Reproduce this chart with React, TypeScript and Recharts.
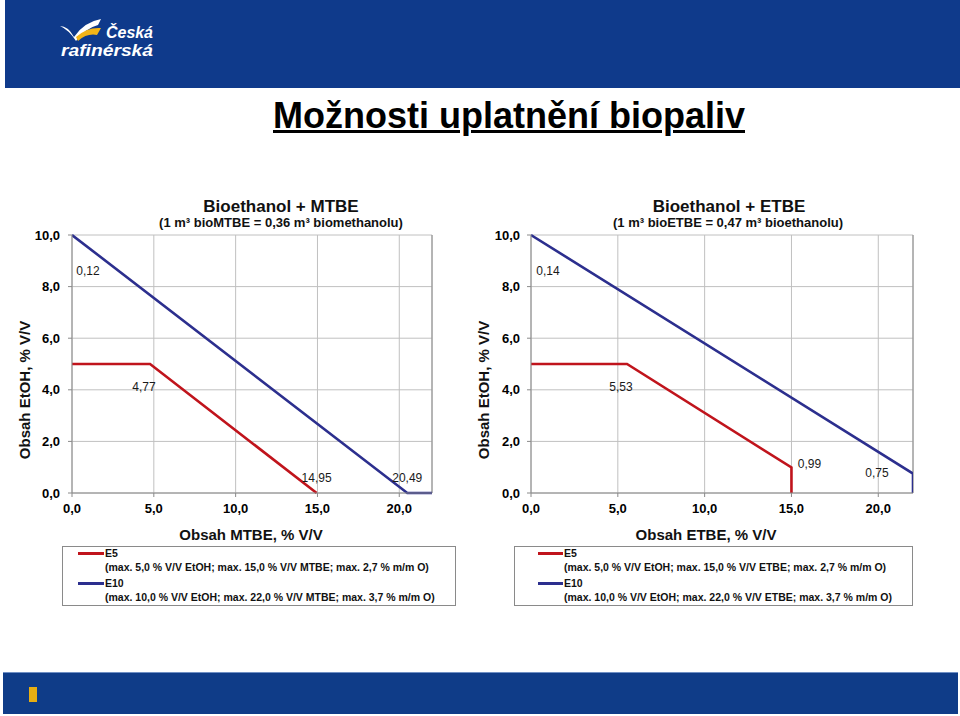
import React from 'react';
import { LineChart, Line, XAxis, YAxis, CartesianGrid, ReferenceDot, ReferenceLine } from 'recharts';

const FONT = 'Arial, "Liberation Sans", Helvetica, sans-serif';
const RED = '#C0141C';
const BLUE = '#2C2F8E';
const GRID = '#c0c0c0';
const AXIS = '#8a8a8a';

// x ticks / y ticks
const xTicks = [0, 5, 10, 15, 20];
const yTicks = [0, 2, 4, 6, 8, 10];

// MTBE chart series
const mtbeE5X = [0, 4.77, 14.95];
const mtbeE5Y = [5, 5, 0];
const mtbeE10X = [0, 20.49, 22];
const mtbeE10Y = [10, 0, 0];

// ETBE chart series
const etbeE5X = [0, 5.53, 15, 15];
const etbeE5Y = [5, 5, 0.99, 0];
const etbeE10X = [0, 22, 22];
const etbeE10Y = [10, 0.75, 0];

// annotations: text, anchor point (data), pixel offset
const mtbeNotes = [
  { text: '0,12', x: 0, y: 10, dx: 16, dy: 40 },
  { text: '4,77', x: 4.77, y: 5, dx: -6, dy: 27 },
  { text: '14,95', x: 14.95, y: 0, dx: 0, dy: -11 },
  { text: '20,49', x: 20.49, y: 0, dx: 0, dy: -11 },
];
const etbeNotes = [
  { text: '0,14', x: 0, y: 10, dx: 17, dy: 40 },
  { text: '5,53', x: 5.53, y: 5, dx: -6, dy: 27 },
  { text: '0,99', x: 15, y: 0.99, dx: 18, dy: 1 },
  { text: '0,75', x: 22, y: 0.75, dx: -36, dy: 3 },
];

const zip = (xs: number[], ys: number[]) => xs.map((x, i) => ({ x, y: ys[i] }));

const fmt = (v: number) => v.toFixed(1).replace('.', ',');

type Note = { text: string; x: number; y: number; dx: number; dy: number };

function Chart(props: {
  left: number;
  yAxisWidth: number;
  yTickMargin: number;
  marginRight: number;
  width: number;
  e5: { x: number; y: number }[];
  e10: { x: number; y: number }[];
  notes: Note[];
}) {
  const { left, yAxisWidth, yTickMargin, marginRight, width, e5, e10, notes } = props;
  const tickStyle = { fill: '#000', fontSize: 13, fontWeight: 'bold' as const, fontFamily: FONT };
  return (
    <div style={{ position: 'absolute', left, top: 220 }}>
      <LineChart width={width} height={303} margin={{ top: 15, right: marginRight, bottom: 0, left: 0 }}>
        <CartesianGrid stroke={GRID} strokeWidth={1} />
        <XAxis
          dataKey="x"
          type="number"
          domain={[0, 22]}
          ticks={xTicks}
          allowDataOverflow
          tickFormatter={fmt}
          tick={tickStyle}
          tickSize={4}
          tickMargin={7}
          height={30}
          stroke={AXIS}
          interval={0}
        />
        <YAxis
          type="number"
          domain={[0, 10]}
          ticks={yTicks}
          tickFormatter={fmt}
          tick={tickStyle}
          tickSize={4}
          tickMargin={yTickMargin}
          width={yAxisWidth}
          stroke={AXIS}
          interval={0}
        />
        <ReferenceLine x={22} stroke={AXIS} strokeWidth={1} ifOverflow="visible" />
        <Line data={e5} dataKey="y" type="linear" stroke={RED} strokeWidth={2.6} dot={false} isAnimationActive={false} />
        <Line data={e10} dataKey="y" type="linear" stroke={BLUE} strokeWidth={2.6} dot={false} isAnimationActive={false} />
        {notes.map((n, i) => (
          <ReferenceDot
            key={i}
            x={n.x}
            y={n.y}
            r={1}
            ifOverflow="visible"
            shape={(p: any) => (
              <text
                x={p.cx + n.dx}
                y={p.cy + n.dy}
                textAnchor="middle"
                fontSize={12}
                fontFamily={FONT}
                fill="#1a1a1a"
              >
                {n.text}
              </text>
            )}
          />
        ))}
      </LineChart>
    </div>
  );
}

function Legend(props: { left: number; width: number; swatchLeft: number; textLeft: number; lines: string[] }) {
  const { left, width, swatchLeft, textLeft, lines } = props;
  const txt: React.CSSProperties = {
    position: 'absolute',
    left: textLeft,
    fontSize: 10.5,
    lineHeight: '14px',
    fontWeight: 'bold',
    whiteSpace: 'nowrap',
    fontFamily: FONT,
    color: '#111',
  };
  const sw = (top: number, color: string): React.CSSProperties => ({
    position: 'absolute',
    left: swatchLeft,
    top,
    width: textLeft - swatchLeft - 1,
    height: 3,
    background: color,
  });
  return (
    <div
      style={{
        position: 'absolute',
        left,
        top: 546,
        width,
        height: 60,
        border: '1px solid #8a8a8a',
        boxSizing: 'border-box',
        background: '#fff',
      }}
    >
      <div style={sw(5, RED)} />
      <div style={{ ...txt, top: -1 }}>E5</div>
      <div style={{ ...txt, top: 13 }}>{lines[0]}</div>
      <div style={sw(35, BLUE)} />
      <div style={{ ...txt, top: 29 }}>E10</div>
      <div style={{ ...txt, top: 43 }}>{lines[1]}</div>
    </div>
  );
}

function CenterText(props: { x: number; y: number; size: number; children: React.ReactNode; rotate?: boolean }) {
  const { x, y, size, children, rotate } = props;
  return (
    <div
      style={{
        position: 'absolute',
        left: x,
        top: y,
        transform: `translate(-50%, -50%)${rotate ? ' rotate(-90deg)' : ''}`,
        fontSize: size,
        fontWeight: 'bold',
        whiteSpace: 'nowrap',
        fontFamily: FONT,
        color: '#111',
        lineHeight: 1,
      }}
    >
      {children}
    </div>
  );
}

export default function App() {
  return (
    <div
      style={{
        position: 'absolute',
        left: 0,
        top: 0,
        width: 960,
        height: 716,
        background: '#fff',
        overflow: 'hidden',
        fontFamily: FONT,
      }}
    >
      {/* header */}
      <div style={{ position: 'absolute', left: 5, top: 0, width: 955, height: 88, background: '#0F3A8B' }}>
        <svg width={160} height={88} style={{ position: 'absolute', left: 0, top: 0 }}>
          <path d="M55,26 Q63,26 69,37 Q79,22 96,19 L93,25 Q81,28 71,41 Q64,30 55,26 Z" fill="#fff" />
          <path d="M71,37 Q82,27 96,28 L92,35 Q82,33 73,41 Z" fill="#F2B418" />
          <text x={101} y={38} fill="#fff" fontSize={16} fontWeight="bold" fontStyle="italic" fontFamily={FONT} textLength={47} lengthAdjust="spacingAndGlyphs">
            Česká
          </text>
          <text x={56} y={56} fill="#fff" fontSize={16} fontWeight="bold" fontStyle="italic" fontFamily={FONT} textLength={92} lengthAdjust="spacingAndGlyphs">
            rafinérská
          </text>
        </svg>
      </div>

      {/* title */}
      <div
        style={{
          position: 'absolute',
          left: 509,
          top: 98,
          transform: 'translateX(-50%)',
          fontSize: 36,
          lineHeight: '36px',
          fontWeight: 'bold',
          whiteSpace: 'nowrap',
          textDecoration: 'underline',
          textDecorationThickness: 3,
          color: '#000',
        }}
      >
        Možnosti uplatnění biopaliv
      </div>

      {/* left chart */}
      <CenterText x={281} y={206} size={17}>Bioethanol + MTBE</CenterText>
      <CenterText x={281} y={222} size={13}>(1 m³ bioMTBE = 0,36 m³ biomethanolu)</CenterText>
      <CenterText x={24} y={390} size={15} rotate>Obsah EtOH, % V/V</CenterText>
      <Chart
        left={0}
        yAxisWidth={72}
        yTickMargin={8}
        marginRight={28}
        width={460}
        e5={zip(mtbeE5X, mtbeE5Y)}
        e10={zip(mtbeE10X, mtbeE10Y)}
        notes={mtbeNotes}
      />
      <CenterText x={251} y={534} size={15}>Obsah MTBE, % V/V</CenterText>
      <Legend
        left={62}
        width={394}
        swatchLeft={15}
        textLeft={42}
        lines={[
          '(max. 5,0 % V/V EtOH; max. 15,0 % V/V MTBE; max. 2,7 % m/m O)',
          '(max. 10,0 % V/V EtOH; max. 22,0 % V/V MTBE; max. 3,7 % m/m O)',
        ]}
      />

      {/* right chart */}
      <CenterText x={729} y={206} size={17}>Bioethanol + ETBE</CenterText>
      <CenterText x={728} y={222} size={13}>(1 m³ bioETBE = 0,47 m³ bioethanolu)</CenterText>
      <CenterText x={483} y={390} size={15} rotate>Obsah EtOH, % V/V</CenterText>
      <Chart
        left={470}
        yAxisWidth={61}
        yTickMargin={7}
        marginRight={47}
        width={490}
        e5={zip(etbeE5X, etbeE5Y)}
        e10={zip(etbeE10X, etbeE10Y)}
        notes={etbeNotes}
      />
      <CenterText x={706} y={534} size={15}>Obsah ETBE, % V/V</CenterText>
      <Legend
        left={514}
        width={399}
        swatchLeft={23}
        textLeft={49}
        lines={[
          '(max. 5,0 % V/V EtOH; max. 15,0 % V/V ETBE; max. 2,7 % m/m O)',
          '(max. 10,0 % V/V EtOH; max. 22,0 % V/V ETBE; max. 3,7 % m/m O)',
        ]}
      />

      {/* footer */}
      <div
        style={{
          position: 'absolute',
          left: 3,
          top: 672,
          width: 955,
          height: 42,
          background: '#0F3C88',
          borderTop: '1px solid #6f8fc4',
          boxSizing: 'border-box',
        }}
      >
        <div style={{ position: 'absolute', left: 26, top: 14, width: 8, height: 15, background: '#E8AE12' }} />
      </div>
    </div>
  );
}
